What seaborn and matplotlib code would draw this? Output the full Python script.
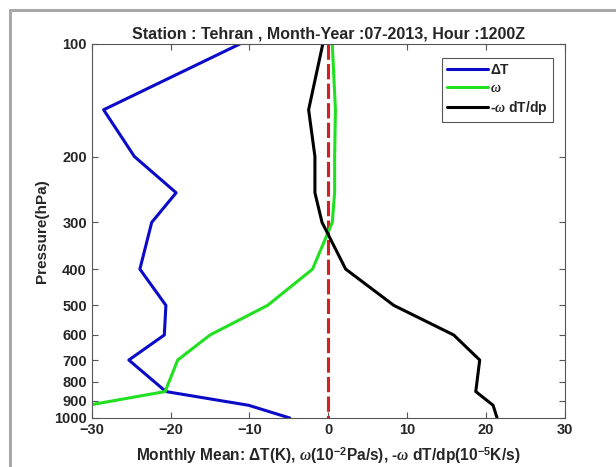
import numpy as np
import pandas as pd
import matplotlib
matplotlib.use('Agg')
import matplotlib.pyplot as plt
import seaborn as sns

# Pressure levels (hPa) and monthly mean profiles
pressure = [100, 150, 200, 250, 300, 400, 500, 600, 700, 850, 925, 1000]
delta_t = [-11.2, -28.5, -24.6, -19.3, -22.4, -23.9, -20.6, -20.8, -25.3, -20.6, -10.1, -4.9]
omega = [0.5, 0.9, 0.8, 0.8, 0.5, -2.0, -7.7, -15.0, -19.1, -20.7, -30.5, -33.0]
omega_dtdp = [-0.7, -2.5, -1.7, -1.7, -0.8, 2.2, 8.3, 15.9, 19.2, 18.7, 20.9, 21.4]
zero_line = [0, 0]
zero_p = [100, 1000]

p_ticks = [100, 200, 300, 400, 500, 600, 700, 800, 900, 1000]
x_ticks = [-30, -20, -10, 0, 10, 20, 30]

sns.set_style('white')
plt.rcParams['font.family'] = ['Liberation Sans', 'DejaVu Sans']
plt.rcParams['font.weight'] = 'bold'
plt.rcParams['mathtext.fontset'] = 'custom'
plt.rcParams['mathtext.it'] = 'Liberation Serif:italic'
plt.rcParams['mathtext.rm'] = 'Liberation Sans:bold'

df = pd.DataFrame({'p': pressure, 'dT': delta_t, 'w': omega, 'adv': omega_dtdp})

fig = plt.figure(figsize=(6.16, 4.67), dpi=100)
ax = fig.add_axes([0.149, 0.105, 0.768, 0.801])

sns.lineplot(data=df, x='dT', y='p', orient='y', sort=False, estimator=None,
             color='#0a0ac8', lw=2.2, label=r'$\Delta$T', ax=ax)
sns.lineplot(data=df, x='w', y='p', orient='y', sort=False, estimator=None,
             color='#20e020', lw=2.2, label=r'$\omega$', ax=ax)
sns.lineplot(data=df, x='adv', y='p', orient='y', sort=False, estimator=None,
             color='black', lw=2.2, label=r'-$\omega$ dT/dp', ax=ax)
ax.plot(zero_line, zero_p, color='#d42020', lw=2.2, dashes=(5, 1.4), zorder=1)

ax.set_yscale('log')
ax.set_ylim(1000, 100)
ax.set_yticks(p_ticks)
ax.set_yticklabels([str(t) for t in p_ticks])
ax.yaxis.set_minor_locator(matplotlib.ticker.NullLocator())
ax.set_xlim(-30, 30)
ax.set_xticks(x_ticks)

ax.tick_params(direction='in', length=4, width=0.8, colors='#555555',
               labelcolor='#262626', labelsize=10.5, top=True, right=True,
               left=True, bottom=True)
for lab in ax.get_xticklabels() + ax.get_yticklabels():
    lab.set_fontweight('bold')
for s in ax.spines.values():
    s.set_color('#555555')
    s.set_linewidth(0.8)

ax.set_title('Station : Tehran , Month-Year :07-2013, Hour :1200Z',
             fontsize=11.5, fontweight='bold', pad=4)
ax.set_xlabel(r'Monthly Mean: $\Delta$T(K), $\omega$(10$^{-2}$Pa/s), -$\omega$ dT/dp(10$^{-5}$K/s)',
              fontsize=11.2, fontweight='bold', color='#262626', labelpad=6)
ax.set_ylabel('Pressure(hPa)', fontsize=11, fontweight='bold', color='#262626', labelpad=4)

leg = ax.legend(loc='upper right', bbox_to_anchor=(0.975, 0.963), borderaxespad=0,
                handlelength=2.9, handletextpad=0.2, borderpad=0.35, labelspacing=0.3,
                fancybox=False, framealpha=1, edgecolor='#555555',
                prop={'weight': 'bold', 'size': 10})
leg.get_frame().set_linewidth(0.8)

# screenshot-style frame at the top and left edges
fig.add_artist(plt.Line2D([0.0155, 1.0], [0.978, 0.978], color='#a8a8a8', lw=2.2))
fig.add_artist(plt.Line2D([0.0155, 0.0155], [0.0, 0.978], color='#a8a8a8', lw=2.2))

fig.savefig('out.png', dpi=100, facecolor='white')
